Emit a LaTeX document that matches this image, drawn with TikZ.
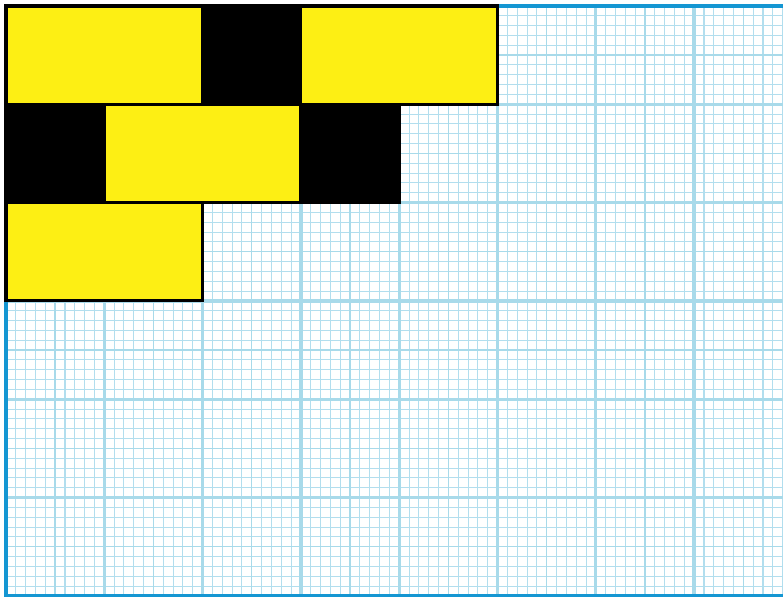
\documentclass[tikz,border=0pt]{standalone}
\definecolor{gridblue}{RGB}{168,218,234}
\definecolor{gridlight}{RGB}{178,222,238}
\definecolor{borderblue}{RGB}{20,150,210}
\definecolor{tileyellow}{RGB}{253,239,20}
\tikzset{
  minorline/.style={draw=gridlight, line width=0.3pt},
  midline/.style={draw=gridblue, line width=0.42pt},
  majorline/.style={draw=gridblue, line width=0.95pt},
  frameline/.style={draw=borderblue, line width=0.9pt},
  ytile/.style={rectangle, fill=tileyellow, draw=black, line width=0.9pt, inner sep=0pt, outer sep=0pt, minimum height=1cm},
  btile/.style={rectangle, fill=black, draw=black, line width=0.9pt, inner sep=0pt, outer sep=0pt, minimum height=1cm, minimum width=1cm}
}
\begin{document}
\begin{tikzpicture}[x=1cm,y=1cm]
\useasboundingbox (-0.061,0.061) rectangle (7.904,-6.002);
\begin{scope}
  \clip (0,0) rectangle (7.91,-6);
  \draw[minorline, step=0.1] (0,-6) grid (8,0);
  \draw[midline, step=0.5] (0,-6) grid (8,0);
  \draw[majorline, step=1] (0,-6) grid (8,0);
\end{scope}
\draw[frameline] (8,0) -- (0,0) -- (0,-6) -- (8,-6);
% black tiles
\node[btile] (b1) at (2.5,-0.5) {};
\node[btile] (b2) at (0.5,-1.5) {};
\node[btile] (b3) at (3.5,-1.5) {};
% yellow tiles
\node[ytile, minimum width=2cm] (y1) at (1,-0.5) {};
\node[ytile, minimum width=2cm] (y2) at (4,-0.5) {};
\node[ytile, minimum width=2cm] (y3) at (2,-1.5) {};
\node[ytile, minimum width=2cm] (y4) at (1,-2.5) {};
\end{tikzpicture}
\end{document}
